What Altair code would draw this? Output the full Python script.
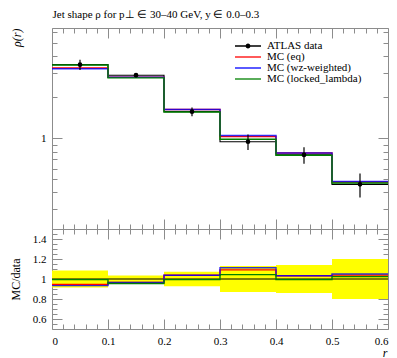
import altair as alt
import pandas as pd

FONT = "Liberation Serif"
GREY = "#8c8c8c"

# ---- data ----
edges = [0.0, 0.1, 0.2, 0.3, 0.4, 0.5, 0.6]
data_vals = [3.48, 2.91, 1.57, 0.944, 0.755, 0.459]
data_errs = [0.30, 0.10, 0.115, 0.123, 0.105, 0.092]
mc_eq = [3.29, 2.81, 1.63, 1.03, 0.78, 0.477]
mc_wz = [3.25, 2.81, 1.63, 1.05, 0.78, 0.482]
mc_ll = [3.46, 2.78, 1.56, 0.985, 0.75, 0.47]

series_names = ["ATLAS data", "MC (eq)", "MC (wz-weighted)", "MC (locked_lambda)"]
series_colors = ["#000000", "#ff0000", "#0000ff", "#008000"]
series_vals = [data_vals, mc_eq, mc_wz, mc_ll]

x_major = [0, 0.1, 0.2, 0.3, 0.4, 0.5, 0.6]
x_minor = [round(0.02 * i, 2) for i in range(31) if i % 5]
y_main_major = [1]
y_main_minor = [0.3, 0.4, 0.5, 0.6, 0.7, 0.8, 0.9, 2, 3, 4, 5, 6]
r_major = [0.6, 0.8, 1.0, 1.2, 1.4]
r_minor = [0.55, 0.65, 0.7, 0.75, 0.85, 0.9, 0.95, 1.05, 1.1, 1.15, 1.25, 1.3, 1.35, 1.45]

TITLE = "Jet shape \u03c1 for p\u22a5 \u2208 30\u201340 GeV, y \u2208 0.0\u20130.3"

MAJ, MIN = 10, 5


def tick_axis(orient, values, size, **kw):
    opts = dict(orient=orient, values=values, tickSize=size, offset=-size, domain=False,
                grid=False, labels=False, tickColor=GREY, tickWidth=1, title=None,
                minExtent=0, format="~g")
    opts.update(kw)
    return alt.Axis(**opts)


def step_df(vals, name):
    return pd.DataFrame({"x": edges, "y": list(vals) + [vals[-1]], "series": name})


centers = [(edges[i] + edges[i + 1]) / 2 for i in range(len(data_vals))]
pts = pd.DataFrame({
    "x": centers,
    "y": data_vals,
    "lo": [v - e for v, e in zip(data_vals, data_errs)],
    "hi": [v + e for v, e in zip(data_vals, data_errs)],
})

xs = alt.Scale(domain=[0, 0.6], nice=False, zero=False)
ys_main = alt.Scale(type="log", domain=[0.2155, 6.47], nice=False)
ys_ratio = alt.Scale(domain=[0.5, 1.5], nice=False, zero=False)
color_scale = alt.Scale(domain=series_names, range=series_colors)

DOT = "M-2.6,0H2.6M-0.35,0A0.35,0.35,0,1,0,0.35,0A0.35,0.35,0,1,0,-0.35,0Z"
LINE = "M-2.6,0H2.6"
legend = alt.Legend(
    title=None, orient="none", legendX=190, legendY=12, padding=0,
    symbolType=alt.ExprRef(expr=f"datum.value === 'ATLAS data' ? '{DOT}' : '{LINE}'"),
    symbolFillColor=alt.ExprRef(expr="datum.value === 'ATLAS data' ? 'black' : 'transparent'"),
    symbolSize=100, symbolStrokeWidth=1.3, symbolOpacity=1,
    labelFont=FONT, labelFontSize=11, labelColor="black", labelOffset=13,
    rowPadding=-0.5,
)

main_axes = [
    (tick_axis("bottom", x_major, MAJ),
     tick_axis("left", y_main_major, MAJ, labels=True, labelPadding=6,
               title="\u03c1(r)", titleFontStyle="italic", titleAngle=270,
               titleX=-51, titleY=0, titleAlign="right", titleBaseline="top")),
    (tick_axis("bottom", x_minor, MIN), tick_axis("left", y_main_minor, MIN)),
    (tick_axis("top", x_major, MAJ, title=TITLE, titleX=0, titleY=-20.5,
               titleAlign="left", titleBaseline="alphabetic", titleFontSize=11,
               titleAngle=0),
     tick_axis("right", y_main_major, MAJ)),
    (tick_axis("top", x_minor, MIN), tick_axis("right", y_main_minor, MIN)),
]

line_styles = [(1.1, 1.0), (1.4, 1.0), (1.4, 0.8), (1.4, 1.0)]

main_layers = []
for i in range(4):
    w, op = line_styles[i]
    xa, ya = main_axes[i]
    main_layers.append(
        alt.Chart(step_df(series_vals[i], series_names[i]))
        .mark_line(interpolate="step-after", strokeWidth=w, opacity=op, clip=True)
        .encode(
            x=alt.X("x:Q", scale=xs, axis=xa),
            y=alt.Y("y:Q", scale=ys_main, axis=ya),
            color=alt.Color("series:N", scale=color_scale, legend=legend),
        )
    )

errbars = alt.Chart(pts).mark_rule(color="black", strokeWidth=1.2, clip=True).encode(
    x=alt.X("x:Q", scale=xs, axis=None),
    y=alt.Y("lo:Q", scale=ys_main, axis=None),
    y2="hi:Q",
)
points = alt.Chart(pts).mark_point(filled=True, color="black", size=22, opacity=1).encode(
    x=alt.X("x:Q", scale=xs, axis=None),
    y=alt.Y("y:Q", scale=ys_main, axis=None),
)

main = alt.layer(*main_layers, errbars, points).resolve_axis(
    x="independent", y="independent"
).properties(width=336, height=201)

# ---- ratio panel ----
rel = [e / v for e, v in zip(data_errs, data_vals)]
band = pd.DataFrame({
    "x": edges[:-1], "x2": edges[1:],
    "lo": [1 - r for r in rel], "hi": [1 + r for r in rel],
})

ratio_axes = [
    (tick_axis("bottom", x_major, MAJ, labels=True, labelPadding=6,
               title="r", titleFontStyle="italic", titleX=335, titleY=37,
               titleAlign="right", titleBaseline="alphabetic"),
     tick_axis("left", r_major, MAJ, labels=True, labelPadding=6,
               title="MC/data", titleAngle=270, titleX=-52, titleY=50,
               titleAlign="center", titleBaseline="top")),
    (tick_axis("bottom", x_minor, MIN), tick_axis("left", r_minor, MIN)),
    (tick_axis("top", x_major, MAJ), tick_axis("right", r_major, MAJ)),
    (tick_axis("top", x_minor, MIN), tick_axis("right", r_minor, MIN)),
]

band_layer = alt.Chart(band).mark_rect(color="#ffff00", opacity=1, clip=True).encode(
    x=alt.X("x:Q", scale=xs, axis=None), x2="x2:Q",
    y=alt.Y("lo:Q", scale=ys_ratio, axis=None), y2="hi:Q",
)

ratio_layers = [band_layer]
for i in range(4):
    w, op = line_styles[i]
    xa, ya = ratio_axes[i]
    rvals = [m / d for m, d in zip(series_vals[i], data_vals)]
    ratio_layers.append(
        alt.Chart(step_df(rvals, series_names[i]))
        .mark_line(interpolate="step-after", strokeWidth=w, opacity=op, clip=True,
                   color=series_colors[i])
        .encode(
            x=alt.X("x:Q", scale=xs, axis=xa),
            y=alt.Y("y:Q", scale=ys_ratio, axis=ya),
        )
    )

ratio = alt.layer(*ratio_layers).resolve_axis(
    x="independent", y="independent"
).properties(width=336, height=100)

chart = alt.vconcat(
    main, ratio, spacing=0, bounds="flush",
    padding={"left": 0, "top": 0, "right": 0, "bottom": 0},
).configure(font=FONT).configure_view(stroke=GREY, strokeWidth=1).configure_axis(
    labelFont=FONT, labelFontSize=11, labelColor="black",
    titleFont=FONT, titleFontSize=12, titleColor="black", titleFontWeight="normal",
)

chart.save("out.html", embed_options={"renderer": "svg", "actions": False})
